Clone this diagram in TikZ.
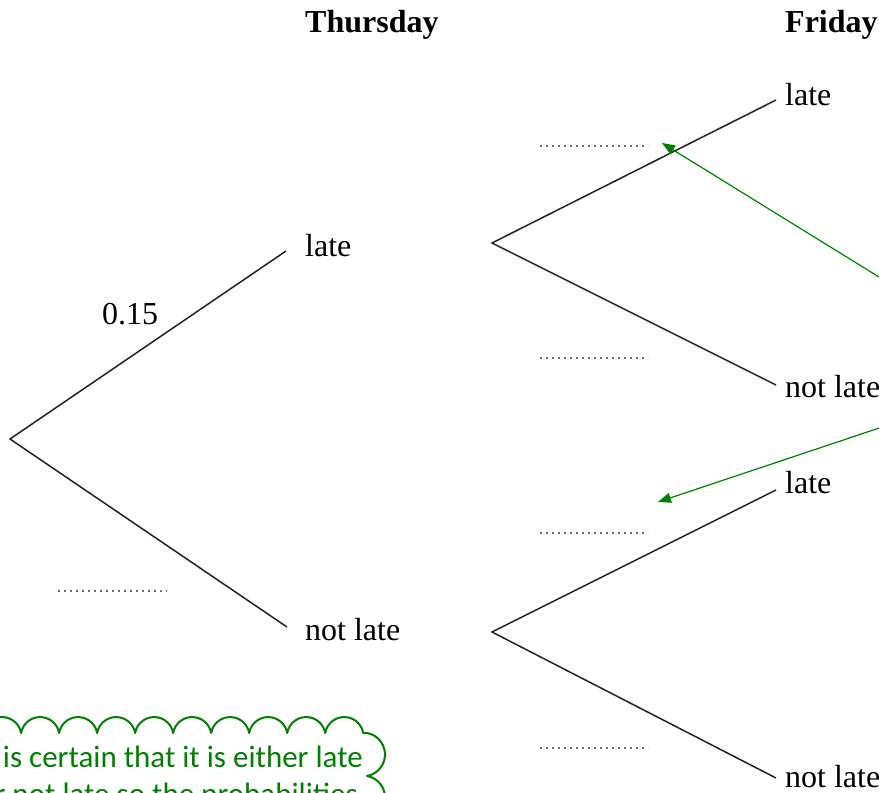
\documentclass[tikz,border=0pt]{standalone}
\usepackage{fontspec}
\setmainfont{Liberation Serif}
\newfontfamily\notefont{Carlito}
\usetikzlibrary{arrows.meta}
\definecolor{branch}{RGB}{34,34,34}
\definecolor{notegreen}{RGB}{0,128,0}
\definecolor{dotgray}{RGB}{110,110,110}
\tikzset{
  branchline/.style={draw=branch, line width=1.5pt},
  outcome/.style={anchor=west, inner sep=0pt, font=\fontsize{32}{32}\selectfont},
  heading/.style={anchor=base west, inner sep=0pt, font=\fontsize{32}{32}\selectfont\bfseries},
  blank/.style={draw=dotgray, line width=1.6pt, dash pattern=on 1.6pt off 4.4pt},
  pointer/.style={draw=notegreen, line width=1.2pt, -{Triangle[length=13pt,width=10pt]}},
  notetext/.style={anchor=base east, inner sep=0pt, text=notegreen, font=\notefont\fontsize{31}{31}\selectfont},
  cloudline/.style={draw=notegreen, line width=2pt, line cap=round, line join=round},
}
\begin{document}
\begin{tikzpicture}[x=1pt, y=-1pt]
\useasboundingbox (0,0) rectangle (879,793);
\clip (0,0) rectangle (879,793);

% headings
\node[heading] (thu) at (305,32) {Thursday};
\node[heading] (fri) at (785,32) {Friday};

% branch points
\coordinate (root) at (10,439);
\coordinate (fa) at (492,243);
\coordinate (fb) at (492,632);

% Thursday outcomes
\node[outcome] (tlate) at (305,246) {late};
\node[outcome] (tnot) at (305,630) {not late};
\coordinate (tlateEnd) at (286,251);
\coordinate (tnotEnd) at (287,627);
\draw[branchline] (tlateEnd) -- (root) -- (tnotEnd);

% Friday outcomes
\node[outcome] (f1) at (785,95) {late};
\node[outcome] (f2) at (785,387) {not late};
\node[outcome] (f3) at (785,483) {late};
\node[outcome] (f4) at (785,777) {not late};
\coordinate (f1End) at (776,100);
\coordinate (f2End) at (776,385);
\coordinate (f3End) at (776,490);
\coordinate (f4End) at (776,778);
\draw[branchline] (f1End) -- (fa) -- (f2End);
\draw[branchline] (f3End) -- (fb) -- (f4End);

% given probability
\node[anchor=base west, inner sep=0pt, font=\fontsize{32}{32}\selectfont] (p1) at (102,324) {0.15};

% answer spaces
\coordinate (b0a) at (58,591);  \coordinate (b0b) at (167,591);
\coordinate (b1a) at (540,146); \coordinate (b1b) at (648,146);
\coordinate (b2a) at (540,358); \coordinate (b2b) at (648,358);
\coordinate (b3a) at (540,533); \coordinate (b3b) at (648,533);
\coordinate (b4a) at (540,748); \coordinate (b4b) at (648,748);
\draw[blank] (b0a) -- (b0b);
\draw[blank] (b1a) -- (b1b);
\draw[blank] (b2a) -- (b2b);
\draw[blank] (b3a) -- (b3b);
\draw[blank] (b4a) -- (b4b);

% pointers from the note on the right
\coordinate (srcA) at (960,327);
\coordinate (tipA) at (662,143);
\coordinate (srcB) at (960,401);
\coordinate (tipB) at (658,502);
\draw[pointer] (srcA) -- (tipA);
\draw[pointer] (srcB) -- (tipB);

% scalloped note
\draw[cloudline] (-207,733)
  \foreach \i in {1,...,15} { arc[start angle=-170, end angle=-10, radius=19.3] }
  -- (367,733)
  arc[start angle=-80, end angle=80, radius=21.8]
  arc[start angle=-80, end angle=80, radius=21.8];
\node[notetext] (n1) at (363,767) {is certain that it is either late};
\node[notetext] (n2) at (358,804) {or not late so the probabilities};
\end{tikzpicture}
\end{document}
